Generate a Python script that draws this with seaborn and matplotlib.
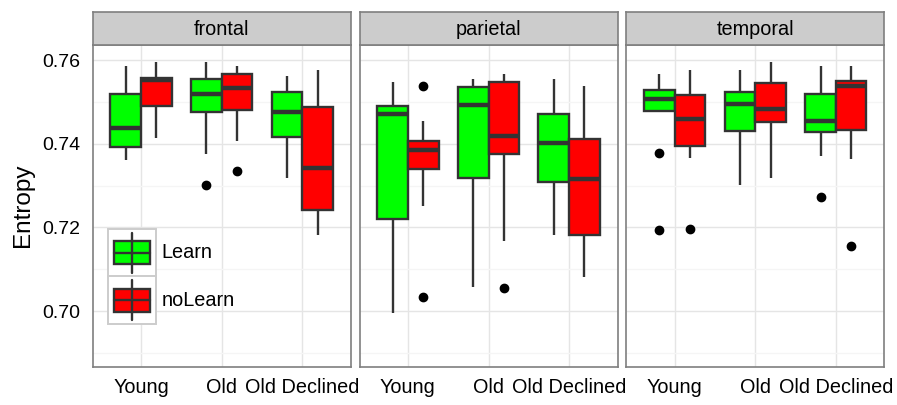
import numpy as np
import pandas as pd
import matplotlib
matplotlib.use("Agg")
import matplotlib.pyplot as plt
from matplotlib.patches import Rectangle
from matplotlib.lines import Line2D
import seaborn as sns

sns.set_style("white")
plt.rcParams['font.family'] = ['Liberation Sans', 'DejaVu Sans']

# categories
regions = ['frontal', 'parietal', 'temporal']
ages = ['Young', 'Old', 'Old Declined']
conds = ['Learn', 'noLearn']
colors = {'Learn': '#00FF00', 'noLearn': '#FF0000'}

# box statistics, order: region > age > cond
whisk_lo = [0.7361, 0.7414, 0.7375, 0.7406, 0.7317, 0.7182,
            0.6995, 0.7252, 0.7058, 0.7168, 0.7183, 0.7081,
            0.7475, 0.7367, 0.7301, 0.7319, 0.7371, 0.7363]
q1 = [0.7392, 0.7490, 0.7475, 0.7480, 0.7415, 0.7242,
      0.7221, 0.7339, 0.7317, 0.7375, 0.7308, 0.7181,
      0.7479, 0.7395, 0.7430, 0.7452, 0.7427, 0.7434]
median = [0.7437, 0.7552, 0.7519, 0.7534, 0.7476, 0.7343,
          0.7472, 0.7386, 0.7492, 0.7418, 0.7401, 0.7315,
          0.7507, 0.7459, 0.7496, 0.7482, 0.7455, 0.7538]
q3 = [0.7520, 0.7558, 0.7555, 0.7567, 0.7524, 0.7488,
      0.7490, 0.7407, 0.7536, 0.7548, 0.7471, 0.7411,
      0.7528, 0.7516, 0.7524, 0.7544, 0.7518, 0.7551]
whisk_hi = [0.7586, 0.7595, 0.7595, 0.7586, 0.7562, 0.7576,
            0.7547, 0.7455, 0.7554, 0.7567, 0.7554, 0.7538,
            0.7567, 0.7576, 0.7576, 0.7595, 0.7586, 0.7586]
outliers = [[], [], [0.7301], [0.7334], [], [],
            [], [0.7034, 0.7539], [], [0.7054], [], [],
            [0.7379, 0.7194], [0.7197], [], [], [0.7273], [0.7156]]

# build a long table whose quartiles / whiskers reproduce the stats above
rows = []
i = 0
for reg in regions:
    for age in ages:
        for cond in conds:
            lows = sorted(o for o in outliers[i] if o < q1[i])
            highs = sorted(o for o in outliers[i] if o > q3[i])
            vals = (lows + [whisk_lo[i]] + [q1[i]] * (3 - len(lows))
                    + [median[i]] * 3 + [q3[i]] * 3
                    + [whisk_hi[i]] * (3 - len(highs)) + highs)
            for v in vals:
                rows.append((reg, age, cond, v))
            i += 1
df = pd.DataFrame(rows, columns=['region', 'age', 'cond', 'entropy'])

W, H = 897, 405
fig = plt.figure(figsize=(W / 100, H / 100), dpi=100)

panel_left = [92.7, 359.5, 626.2]
panel_w = 258.0
panel_top, panel_bot = 45.0, 366.7
strip_top = 11.7

ylim = (0.6867, 0.7636)
for k, reg in enumerate(regions):
    ax = fig.add_axes([panel_left[k] / W, (H - panel_bot) / H,
                       panel_w / W, (panel_bot - panel_top) / H])
    sub = df[df['region'] == reg]
    sns.boxplot(data=sub, x='age', y='entropy', hue='cond', order=ages,
                hue_order=conds, palette=colors, saturation=1, width=0.76,
                gap=0, linewidth=1.7, linecolor='#333333', showcaps=False,
                flierprops=dict(marker='o', markerfacecolor='black',
                                markeredgecolor='black', markersize=6),
                medianprops=dict(linewidth=3.2, color='#333333'),
                legend=False, ax=ax)
    ax.set_xlim(-0.6, 2.6)
    ax.set_ylim(*ylim)
    ax.set_yticks([0.70, 0.72, 0.74, 0.76])
    ax.set_yticks([0.69, 0.71, 0.73, 0.75], minor=True)
    ax.grid(True, which='major', color='#E5E5E5', linewidth=1)
    ax.grid(True, which='minor', axis='y', color='#F5F5F5', linewidth=1)
    ax.set_axisbelow(True)
    ax.set_xlabel('')
    ax.set_ylabel('')
    for s in ax.spines.values():
        s.set_color('#7F7F7F')
        s.set_linewidth(1.2)
    ax.tick_params(axis='x', length=5, width=1, color='#333333',
                   labelsize=14.3, pad=3, labelcolor='black')
    if k == 0:
        ax.set_yticklabels(['0.70', '0.72', '0.74', '0.76'])
        ax.tick_params(axis='y', which='major', length=5, width=1,
                       color='#333333', labelsize=14, pad=4,
                       labelcolor='black')
        ax.tick_params(axis='y', which='minor', length=0)
    else:
        ax.tick_params(axis='y', which='both', length=0, labelleft=False)

    # facet strip
    sax = fig.add_axes([panel_left[k] / W, (H - panel_top) / H,
                        panel_w / W, (panel_top - strip_top) / H])
    sax.set_facecolor('#CCCCCC')
    sax.set_xticks([])
    sax.set_yticks([])
    for s in sax.spines.values():
        s.set_color('#7F7F7F')
        s.set_linewidth(1.2)
    sax.text(0.5, 0.47, reg, ha='center', va='center', fontsize=14.3,
             color='black', transform=sax.transAxes)

fig.text(23 / W, 1 - 205 / H, 'Entropy', rotation=90, ha='center',
         va='center', fontsize=17.5, color='black')

# legend drawn inside the frontal panel
lax = fig.add_axes([0, 0, 1, 1], facecolor='none')
lax.set_xlim(0, W)
lax.set_ylim(H, 0)
lax.axis('off')
key_x0, key_w = 108.3, 47.7
key_tops = [229.0, 276.3]
for cond, top in zip(conds, key_tops):
    lax.add_patch(Rectangle((key_x0, top), key_w, key_w, facecolor='white',
                            edgecolor='#CCCCCC', linewidth=1.4))
    cx = key_x0 + key_w / 2
    cy = top + key_w / 2
    lax.add_line(Line2D([cx, cx], [top + 4, top + key_w - 4],
                        color='#333333', linewidth=1.7))
    lax.add_patch(Rectangle((key_x0 + 6, cy - 11.5), key_w - 12, 23,
                            facecolor=colors[cond], edgecolor='#333333',
                            linewidth=1.7))
    lax.add_line(Line2D([key_x0 + 6, key_x0 + key_w - 6], [cy, cy],
                        color='#333333', linewidth=1.7))
    lax.text(161.7, cy, cond, ha='left', va='center', fontsize=14.3,
             color='black')

fig.savefig('out.png', dpi=100)
